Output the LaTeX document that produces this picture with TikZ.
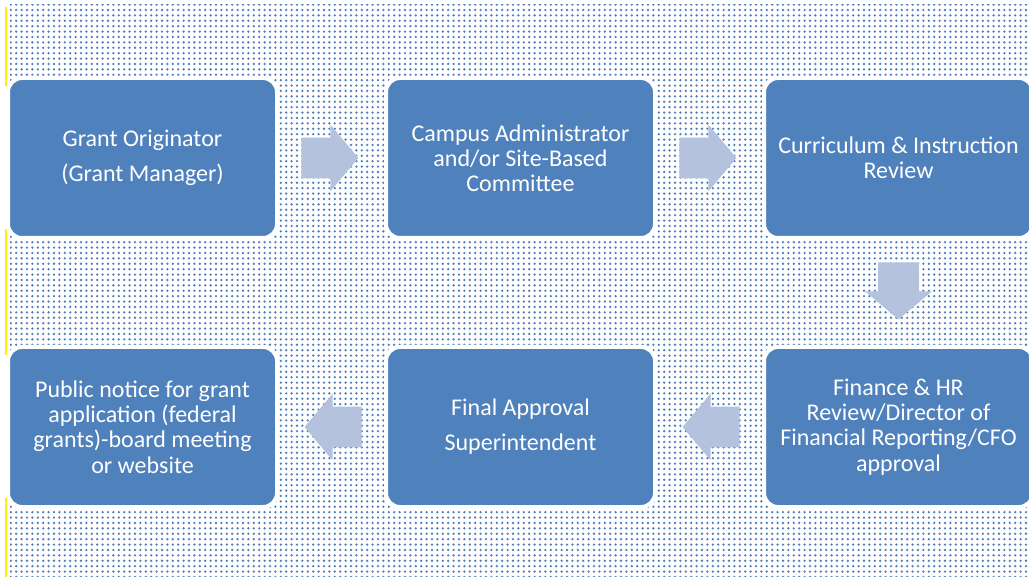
\documentclass[tikz,border=0pt]{standalone}
\usepackage{fontspec}
\setmainfont{Carlito}
\usetikzlibrary{positioning, shapes.arrows, patterns.meta, calc}
\definecolor{boxblue}{RGB}{79,129,189}
\definecolor{arrowblue}{RGB}{180,194,221}
\tikzset{
  stage/.style={
    rectangle,
    rounded corners=7pt,
    fill=boxblue,
    draw=white,
    line width=2pt,
    outer sep=0pt,
    minimum width=134.5pt,
    minimum height=80pt,
    inner sep=2pt,
    align=center,
    text=white,
    font=\fontsize{12}{12.6}\selectfont
  },
  flow/.style={
    single arrow,
    fill=arrowblue,
    draw=none,
    anchor=tail,
    inner xsep=0pt,
    inner ysep=10pt,
    minimum height=28.5pt,
    single arrow head extend=6.5pt,
    single arrow tip angle=100
  }
}

\begin{document}
\begin{tikzpicture}[x=0.5pt, y=-0.5pt, node distance=54.5pt]
        \useasboundingbox (0,0) rectangle (1029,577);
        % dotted backdrop
        \fill[pattern={Dots[distance=2.7pt, radius=0.65pt]}, pattern color=boxblue] (10,5) rectangle (1029,577);
        \draw[yellow, line width=1pt] (6,7) -- (6,86);
        \draw[yellow, line width=1pt] (6,229) -- (6,355);
        \draw[yellow, line width=1pt] (6,498) -- (6,577);

        \node[stage] (orig) at (142.5,158) {Grant Originator\\[4.9pt] (Grant Manager)};
        \node[stage, right=of orig] (campus) {Campus Administrator\\and/or Site-Based\\Committee};
        \node[stage, right=of campus] (review) {Curriculum \& Instruction\\Review};
        \node[stage, below=of review] (finance) {Finance \& HR\\Review/Director of\\Financial Reporting/CFO\\approval};
        \node[stage, left=of finance] (final) {Final Approval\\[4.9pt] Superintendent};
        \node[stage, left=of final] (notice) {Public notice for grant\\application (federal\\grants)-board meeting\\or website};

        \node[flow] (a1) at ([xshift=12pt]orig.east) {};
        \node[flow] (a2) at ([xshift=12pt]campus.east) {};
        \node[flow, rotate=-90] (a3) at ([yshift=-12pt]review.south) {};
        \node[flow, rotate=180] (a4) at ([xshift=-12pt]finance.west) {};
        \node[flow, rotate=180] (a5) at ([xshift=-12pt]final.west) {};
      \end{tikzpicture}
\end{document}
